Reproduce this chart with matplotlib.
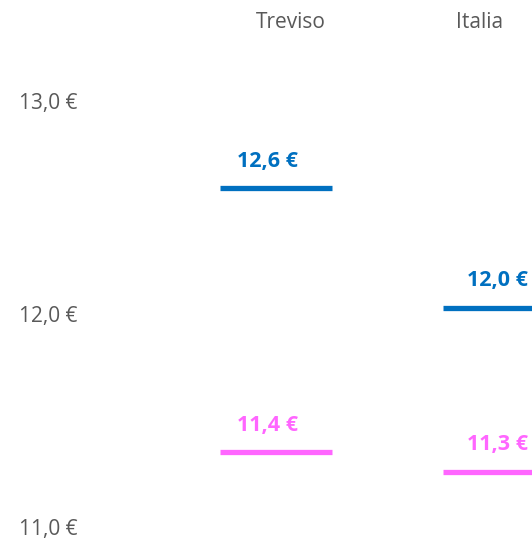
import matplotlib
matplotlib.use("Agg")
import matplotlib.pyplot as plt

# data
regions = ["Treviso", "Italia"]
blue_values = [12.59, 12.03]
pink_values = [11.35, 11.26]
ytick_values = [11.0, 12.0, 13.0]

BLUE = "#0070C0"
PINK = "#FF66FF"
GREY = "#595959"

plt.rcParams["font.family"] = ["Open Sans", "DejaVu Sans"]


def euro(v):
    return f"{round(v + 1e-9, 1):.1f} €".replace(".", ",")


fig = plt.figure(figsize=(5.32, 5.44), dpi=100)
ax = fig.add_axes([100 / 532, 0.01167, 432 / 532, 0.881])

x = list(range(len(regions)))
half = 0.251
label_dx = [-6, -1]
for values, color in [(blue_values, BLUE), (pink_values, PINK)]:
    ax.hlines(values, [i - half for i in x], [i + half for i in x],
              colors=color, linewidth=3.8)
    for i, v in zip(x, values):
        ax.annotate(euro(v), (i, v), xytext=(label_dx[i], 19.5),
                    textcoords="offset points", ha="center", va="center",
                    fontsize=15.5, fontweight="bold", color=color)

ax.set_xlim(-0.789, 1.148)
ax.set_ylim(10.95, 13.2)
ax.set_yticks(ytick_values)
ax.set_yticklabels([euro(v) for v in ytick_values], fontsize=15, color=GREY)
ax.tick_params(axis="y", length=0, pad=16)
ax.set_xticks([])
for s in ax.spines.values():
    s.set_visible(False)

# column headers along the top
header_x = [291 / 532, 480 / 532]
for name, hx in zip(regions, header_x):
    fig.text(hx, 1 - 22 / 544, name, ha="center", va="center",
             fontsize=15, color=GREY)

fig.savefig("out.png", dpi=100)
